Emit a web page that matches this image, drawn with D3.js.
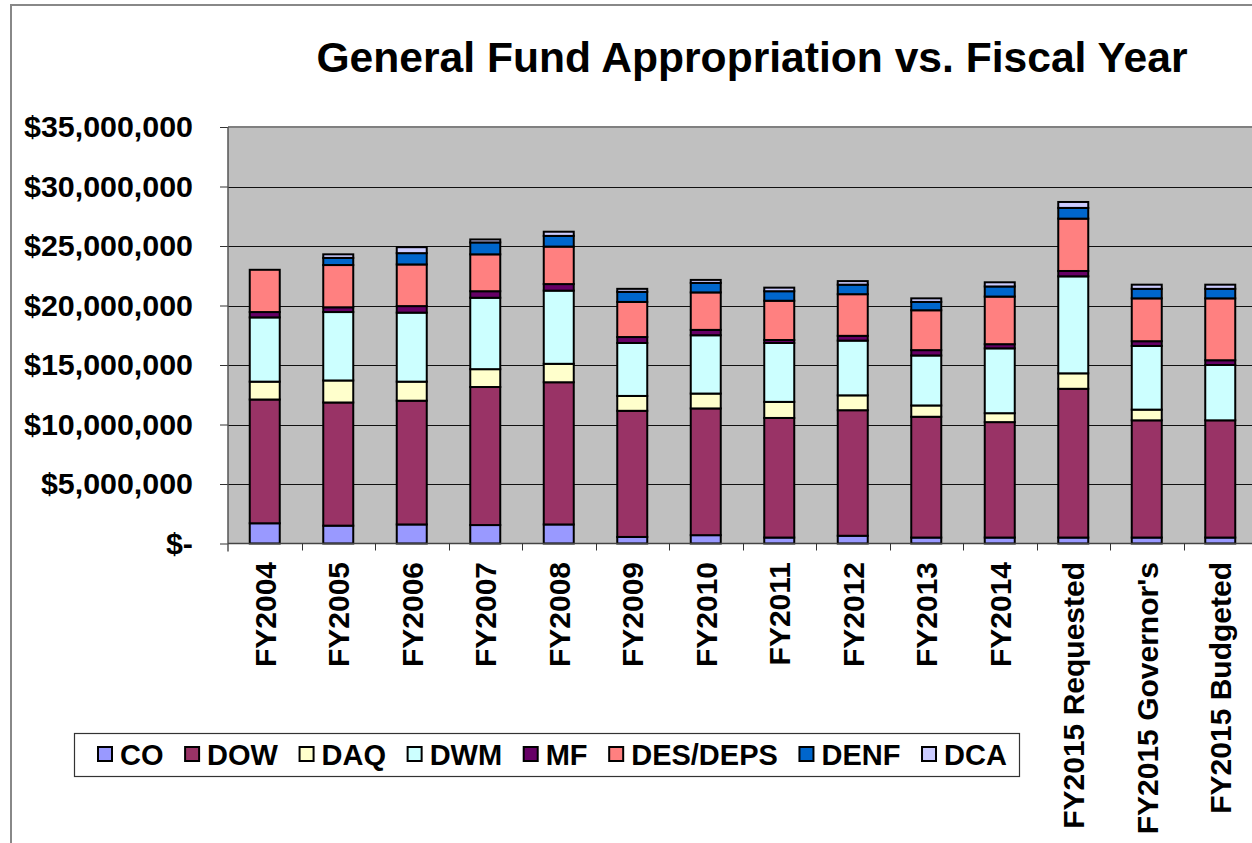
<!DOCTYPE html>
<html lang="en">
<head>
<meta charset="UTF-8">
<title>General Fund Appropriation vs. Fiscal Year</title>
<script src="https://cdn.jsdelivr.net/npm/d3@7"></script>
<style>
  body { margin: 0; background: #fff; }
  text { font-family: "Liberation Sans", Arial, sans-serif; font-weight: bold; fill: #000; }
</style>
</head>
<body>
<script>
  // fiscal years along the x axis
  var categories = ['FY2004', 'FY2005', 'FY2006', 'FY2007', 'FY2008', 'FY2009', 'FY2010',
    'FY2011', 'FY2012', 'FY2013', 'FY2014', 'FY2015 Requested', "FY2015 Governor's", 'FY2015 Budgeted']

  var seriesNames = ['CO', 'DOW', 'DAQ', 'DWM', 'MF', 'DES/DEPS', 'DENF', 'DCA']
  var seriesColors = ['#9999ff', '#993366', '#ffffcc', '#ccffff', '#660066', '#ff8080', '#0066cc', '#ccccff']

  // values in millions of dollars
  var CO   = [1.70, 1.50, 1.60, 1.55, 1.60, 0.55, 0.70, 0.50, 0.65, 0.50, 0.50, 0.50, 0.50, 0.50]
  var DOW  = [10.40, 10.35, 10.40, 11.60, 11.95, 10.60, 10.65, 10.05, 10.55, 10.15, 9.70, 12.50, 9.85, 9.85]
  var DAQ  = [1.50, 1.85, 1.60, 1.50, 1.55, 1.25, 1.25, 1.35, 1.25, 0.95, 0.75, 1.30, 0.90, 0.00]
  var DWM  = [5.40, 5.75, 5.80, 6.00, 6.15, 4.45, 4.90, 4.95, 4.60, 4.20, 5.45, 8.15, 5.35, 4.65]
  var MF   = [0.45, 0.40, 0.55, 0.55, 0.55, 0.50, 0.45, 0.25, 0.40, 0.45, 0.35, 0.45, 0.40, 0.40]
  var DES  = [3.55, 3.55, 3.50, 3.10, 3.15, 2.95, 3.15, 3.30, 3.50, 3.35, 4.00, 4.40, 3.60, 5.20]
  var DENF = [0.00, 0.60, 0.95, 1.00, 0.90, 0.85, 0.80, 0.80, 0.80, 0.70, 0.85, 0.90, 0.80, 0.80]
  var DCA  = [0.00, 0.30, 0.50, 0.25, 0.35, 0.25, 0.25, 0.30, 0.30, 0.30, 0.35, 0.50, 0.35, 0.35]
  var seriesValues = [CO, DOW, DAQ, DWM, MF, DES, DENF, DCA]

  var yTicks = [0, 5e6, 10e6, 15e6, 20e6, 25e6, 30e6, 35e6]

  var width = 1252
      height = 843
      plot = { left: 228, top: 127, bottom: 543.5, step: 73.5 }
      barWidth = 30

  var rows = categories.map(function (c, i) {
    var r = { name: c }
    seriesNames.forEach(function (s, j) { r[s] = seriesValues[j][i] * 1e6 })
    return r
  })
  var stacked = d3.stack().keys(seriesNames)(rows)

  var svg = d3.select('body').append('svg')
      .attr('width', width)
      .attr('height', height)

  // chart frame
  svg.append('rect')
      .attr('x', 11).attr('y', 5)
      .attr('width', 1400).attr('height', 1000)
      .attr('fill', 'none').attr('stroke', '#888').attr('stroke-width', 2)

  var xScale = d3.scaleBand()
      .domain(categories)
      .range([plot.left, plot.left + plot.step * categories.length])
  var yScale = d3.scaleLinear()
      .domain([0, 35e6])
      .range([plot.bottom, plot.top])

  svg.append('text')
      .attr('x', 752).attr('y', 72)
      .attr('text-anchor', 'middle')
      .style('font-size', '42.6px')
      .text('General Fund Appropriation vs. Fiscal Year')

  // plot background
  svg.append('rect')
      .attr('x', plot.left).attr('y', plot.top)
      .attr('width', xScale.range()[1] - plot.left)
      .attr('height', plot.bottom - plot.top)
      .attr('fill', '#c0c0c0')
  svg.append('line')
      .attr('x1', plot.left).attr('x2', xScale.range()[1])
      .attr('y1', plot.top).attr('y2', plot.top)
      .attr('stroke', '#808080').attr('stroke-width', 2)

  // grid lines
  svg.append('g').selectAll('line')
      .data(yTicks.filter(function (d) { return d > 0 && d < 35e6 }))
      .enter().append('line')
      .attr('x1', plot.left).attr('x2', xScale.range()[1])
      .attr('y1', function (d) { return Math.round(yScale(d)) + 0.5 })
      .attr('y2', function (d) { return Math.round(yScale(d)) + 0.5 })
      .attr('stroke', '#111').attr('stroke-width', 1)

  // y axis
  var yAxis = d3.axisLeft(yScale)
      .tickValues(yTicks)
      .tickSize(8)
      .tickPadding(27)
      .tickFormat(function (d) { return d === 0 ? '$-' : '$' + d3.format(',')(d) })
  var gy = svg.append('g')
      .attr('transform', 'translate(' + plot.left + ',0)')
      .call(yAxis)
  gy.select('.domain').remove()
  gy.selectAll('.tick line').attr('stroke', '#333')
  gy.selectAll('text')
      .style('font-size', '30.4px')
      .style('font-family', '"Liberation Sans", Arial, sans-serif')
      .attr('fill', '#000')
  svg.append('line')
      .attr('x1', plot.left).attr('x2', plot.left)
      .attr('y1', plot.top).attr('y2', plot.bottom + 8)
      .attr('stroke', '#555').attr('stroke-width', 1.5)

  // stacked bars
  var layers = svg.append('g').selectAll('g')
      .data(stacked)
      .enter().append('g')
      .attr('fill', function (d, i) { return seriesColors[i] })

  layers.selectAll('rect')
      .data(function (d) { return d.filter(function (p) { return p[1] - p[0] > 0 }) })
      .enter().append('rect')
      .attr('x', function (d) { return xScale(d.data.name) + (xScale.bandwidth() - barWidth) / 2 })
      .attr('width', barWidth)
      .attr('y', function (d) { return yScale(d[1]) })
      .attr('height', function (d) { return yScale(d[0]) - yScale(d[1]) })
      .attr('stroke', '#000')
      .attr('stroke-width', 2)

  // x axis
  var xAxisLine = svg.append('g')
  xAxisLine.append('line')
      .attr('x1', plot.left).attr('x2', xScale.range()[1])
      .attr('y1', plot.bottom).attr('y2', plot.bottom)
      .attr('stroke', '#444').attr('stroke-width', 1.5)
  xAxisLine.selectAll('.xtick')
      .data(categories.slice(1))
      .enter().append('line')
      .attr('x1', function (d) { return Math.round(xScale(d)) + 0.5 })
      .attr('x2', function (d) { return Math.round(xScale(d)) + 0.5 })
      .attr('y1', plot.bottom).attr('y2', plot.bottom + 7)
      .attr('stroke', '#333')

  svg.append('g').selectAll('text')
      .data(categories)
      .enter().append('text')
      .attr('transform', function (d) {
        return 'translate(' + (xScale(d) + xScale.bandwidth() / 2 + 11) + ',562) rotate(-90)'
      })
      .attr('text-anchor', 'end')
      .style('font-size', '30px')
      .text(function (d) { return d })

  // legend
  var legend = svg.append('g')
  legend.append('rect')
      .attr('x', 74.5).attr('y', 733.5)
      .attr('width', 945).attr('height', 43)
      .attr('fill', '#fff').attr('stroke', '#333').attr('stroke-width', 1.2)

  var lx = 98
  seriesNames.forEach(function (s, i) {
    legend.append('rect')
        .attr('x', lx).attr('y', 747)
        .attr('width', 14).attr('height', 14)
        .attr('fill', seriesColors[i])
        .attr('stroke', '#000').attr('stroke-width', 2)
    var t = legend.append('text')
        .attr('x', lx + 22).attr('y', 764.5)
        .style('font-size', '29px')
        .text(s)
    lx += 22 + t.node().getComputedTextLength() + 21.6
  })
</script>
</body>
</html>
